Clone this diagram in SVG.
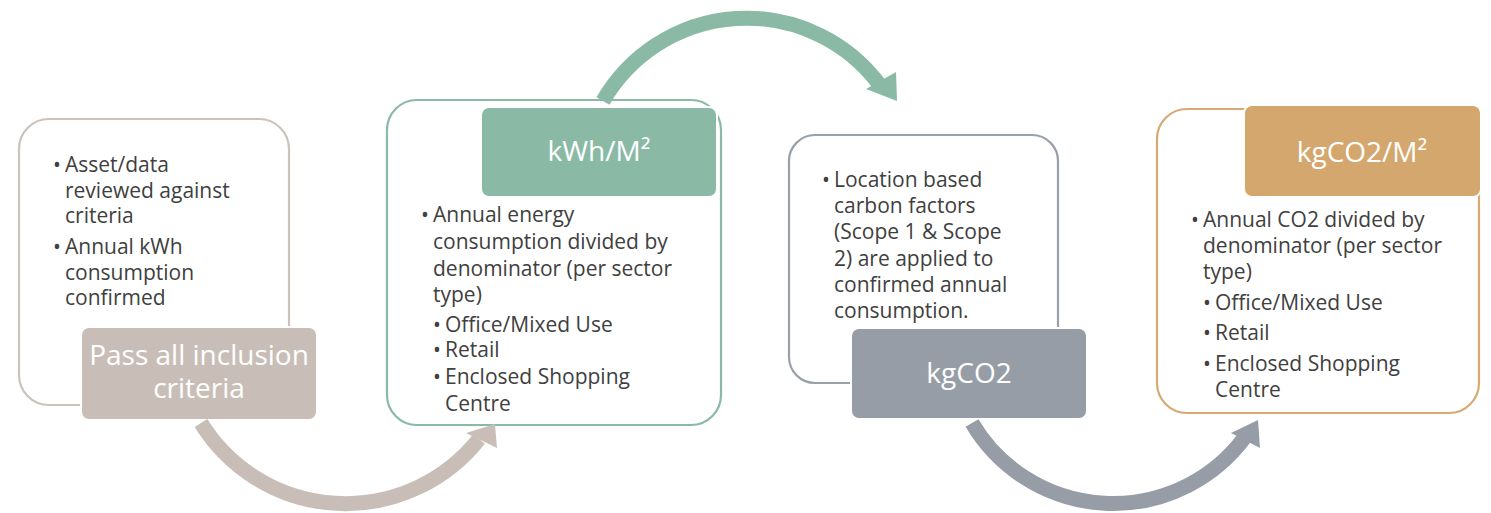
<svg xmlns="http://www.w3.org/2000/svg" width="1491" height="513" viewBox="0 0 1491 513">
<style>
.box{fill:#fff;stroke-width:2.2}
.hdr{stroke:#fff;stroke-width:2}
.t{font-family:"Open Sans","Noto Sans","Liberation Sans",sans-serif;font-size:21px;fill:#404040}
.h{font-family:"Open Sans","Noto Sans","Liberation Sans",sans-serif;font-size:28px;fill:#fff;text-anchor:middle}
.arc{fill:none;stroke-width:15;stroke-linecap:butt}
</style>
<rect width="1491" height="513" fill="#fff"/>
<g id="node1">
<rect class="box" x="19" y="119" width="270" height="286" rx="30" stroke="#cdc2bb"/>
<text class="t"><tspan x="53" y="172">•</tspan><tspan x="65" y="172">Asset/data</tspan><tspan x="65" y="198">reviewed against</tspan><tspan x="65" y="223">criteria</tspan><tspan x="53" y="254">•</tspan><tspan x="65" y="254">Annual kWh</tspan><tspan x="65" y="280">consumption</tspan><tspan x="65" y="305">confirmed</tspan></text>
<rect class="hdr" x="81" y="327" width="236" height="93" rx="8" fill="#c9beb7"/>
<text class="h"><tspan x="199" y="365">Pass all inclusion</tspan><tspan x="199" y="398">criteria</tspan></text>
</g>
<g id="node2">
<rect class="box" x="387" y="100" width="334" height="325" rx="30" stroke="#8abaa5"/>
<rect class="hdr" x="481" y="107" width="236" height="90" rx="8" fill="#8abaa5"/>
<text class="h" x="599" y="161">kWh/M²</text>
<text class="t"><tspan x="421" y="222">•</tspan><tspan x="433" y="222">Annual energy</tspan><tspan x="433" y="249">consumption divided by</tspan><tspan x="433" y="276">denominator (per sector</tspan><tspan x="433" y="302">type)</tspan><tspan x="433" y="332">•</tspan><tspan x="445" y="332">Office/Mixed Use</tspan><tspan x="433" y="357">•</tspan><tspan x="445" y="357">Retail</tspan><tspan x="433" y="384">•</tspan><tspan x="445" y="384">Enclosed Shopping</tspan><tspan x="445" y="411">Centre</tspan></text>
</g>
<g id="node3">
<rect class="box" x="789" y="135" width="269" height="248" rx="26" stroke="#9aa0a9"/>
<text class="t"><tspan x="822" y="187">•</tspan><tspan x="834" y="187">Location based</tspan><tspan x="834" y="213">carbon factors</tspan><tspan x="834" y="239">(Scope 1 &amp; Scope</tspan><tspan x="834" y="266">2) are applied to</tspan><tspan x="834" y="292">confirmed annual</tspan><tspan x="834" y="318">consumption.</tspan></text>
<rect class="hdr" x="851" y="328" width="236" height="91" rx="8" fill="#979da7"/>
<text class="h" x="969" y="383">kgCO2</text>
</g>
<g id="node4">
<rect class="box" x="1157" y="109" width="322" height="304" rx="30" stroke="#d6aa72"/>
<rect class="hdr" x="1244" y="105" width="237" height="92" rx="8" fill="#d4a76e"/>
<text class="h" x="1362" y="162">kgCO2/M²</text>
<text class="t"><tspan x="1191" y="227">•</tspan><tspan x="1203" y="227">Annual CO2 divided by</tspan><tspan x="1203" y="253">denominator (per sector</tspan><tspan x="1203" y="279">type)</tspan><tspan x="1203" y="310">•</tspan><tspan x="1215" y="310">Office/Mixed Use</tspan><tspan x="1203" y="340">•</tspan><tspan x="1215" y="340">Retail</tspan><tspan x="1203" y="371">•</tspan><tspan x="1215" y="371">Enclosed Shopping</tspan><tspan x="1215" y="397">Centre</tspan></text>
</g>
<g id="connectors">
<path class="arc" stroke="#c9beb7" d="M201 423 A170 170 0 0 0 479 439"/>
<polygon fill="#c9beb7" points="495,424 497,448 466,433"/>
<path class="arc" stroke="#8abaa5" d="M603 101 A166 166 0 0 1 879 84"/>
<polygon fill="#8abaa5" points="896,72 897,101 866,89"/>
<path class="arc" stroke="#979da7" d="M972 423 A164 164 0 0 0 1245 437"/>
<polygon fill="#979da7" points="1258,420 1260,448 1231,433"/>
</g>
</svg>
